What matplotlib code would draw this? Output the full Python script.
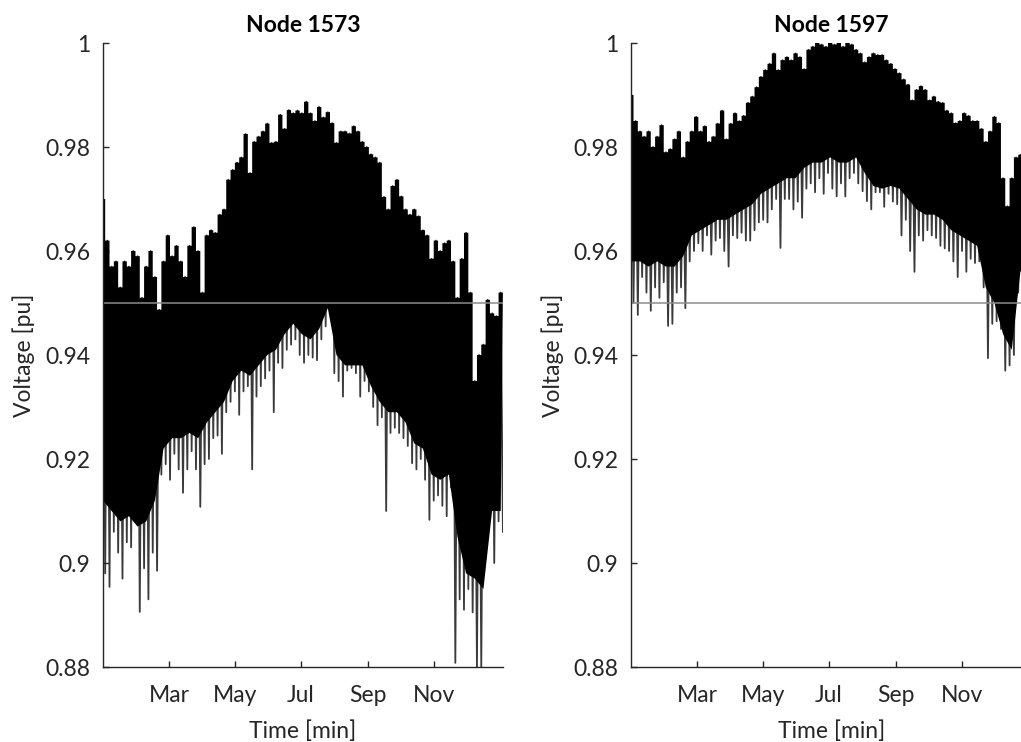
import numpy as np
import matplotlib
matplotlib.use("Agg")
import matplotlib.pyplot as plt
import matplotlib.dates as mdates
from datetime import datetime

plt.rcParams['font.family'] = ['Lato', 'DejaVu Sans']

# sampling: daytime peaks every 4 days starting at day -2, night troughs 2 days later,
# lower edge of the dense band every 8 days
step_hi = 4
step_core = 8
threshold = 0.95

# Node 1573
hi_1573 = [0.970, 0.962, 0.957, 0.958, 0.953, 0.958, 0.957, 0.960, 0.959, 0.951,
           0.957, 0.960, 0.955, 0.9487, 0.958, 0.963, 0.959, 0.961, 0.958, 0.955,
           0.961, 0.9646, 0.960, 0.952, 0.963, 0.964, 0.9635, 0.967, 0.968, 0.9737,
           0.9756, 0.977, 0.978, 0.9825, 0.975, 0.981, 0.982, 0.983, 0.9845, 0.9808,
           0.981, 0.9862, 0.9835, 0.9871, 0.9865, 0.987, 0.9865, 0.9887, 0.9865, 0.985,
           0.9877, 0.9857, 0.9867, 0.9846, 0.9808, 0.983, 0.983, 0.9826, 0.984, 0.983,
           0.981, 0.980, 0.9786, 0.978, 0.977, 0.9704, 0.968, 0.9725, 0.9737, 0.9705,
           0.968, 0.967, 0.968, 0.9667, 0.964, 0.963, 0.9585, 0.962, 0.960, 0.9615,
           0.962, 0.958, 0.951, 0.9585, 0.9635, 0.952, 0.935, 0.940, 0.942, 0.9506,
           0.948, 0.9475, 0.952]
lo_1573 = [0.898, 0.8954, 0.906, 0.902, 0.897, 0.904, 0.903, 0.909, 0.8906, 0.899,
           0.893, 0.902, 0.8985, 0.917, 0.919, 0.916, 0.921, 0.918, 0.9135, 0.918,
           0.9215, 0.918, 0.9108, 0.919, 0.920, 0.924, 0.9245, 0.921, 0.929, 0.931,
           0.933, 0.9285, 0.933, 0.934, 0.918, 0.932, 0.934, 0.9355, 0.937, 0.929,
           0.9385, 0.9375, 0.941, 0.942, 0.943, 0.940, 0.9385, 0.940, 0.9395, 0.939,
           0.943, 0.9455, 0.948, 0.9365, 0.935, 0.932, 0.937, 0.9375, 0.9365, 0.932,
           0.935, 0.933, 0.930, 0.9265, 0.928, 0.910, 0.925, 0.926, 0.925, 0.924,
           0.9225, 0.9192, 0.918, 0.920, 0.916, 0.9083, 0.912, 0.913, 0.911, 0.909,
           0.9145, 0.8808, 0.893, 0.891, 0.895, 0.8905, 0.880, 0.880, 0.903, 0.910,
           0.900, 0.908, 0.906]
core_1573 = [0.912, 0.910, 0.908, 0.909, 0.907, 0.908, 0.912, 0.922, 0.924, 0.924,
             0.925, 0.924, 0.927, 0.929, 0.931, 0.935, 0.937, 0.936, 0.938, 0.940,
             0.941, 0.944, 0.946, 0.944, 0.943, 0.945, 0.949, 0.940, 0.938, 0.938,
             0.938, 0.934, 0.931, 0.929, 0.929, 0.927, 0.923, 0.922, 0.917, 0.916,
             0.917, 0.905, 0.898, 0.897, 0.895, 0.910, 0.910]

# Node 1597
hi_1597 = [0.990, 0.985, 0.983, 0.982, 0.983, 0.980, 0.982, 0.9842, 0.979, 0.9796,
           0.9815, 0.983, 0.978, 0.981, 0.983, 0.9858, 0.983, 0.984, 0.981, 0.982,
           0.9845, 0.987, 0.9815, 0.9845, 0.9865, 0.985, 0.986, 0.9885, 0.9897, 0.9915,
           0.9935, 0.9948, 0.996, 0.998, 0.9948, 0.9967, 0.9973, 0.9967, 0.998, 0.9973,
           0.995, 0.9987, 0.9993, 1.000, 0.9997, 0.9993, 1.000, 0.9997, 1.000, 0.9993,
           1.000, 0.9997, 0.9987, 0.998, 0.9963, 0.9973, 0.998, 0.9977, 0.9977, 0.9967,
           0.996, 0.995, 0.9942, 0.993, 0.992, 0.989, 0.991, 0.9917, 0.991, 0.989,
           0.9897, 0.9887, 0.9885, 0.987, 0.9865, 0.9846, 0.985, 0.9865, 0.986, 0.985,
           0.985, 0.9835, 0.981, 0.983, 0.9858, 0.9846, 0.974, 0.9686, 0.974, 0.978,
           0.9785, 0.977, 0.975]
lo_1597 = [0.950, 0.9477, 0.955, 0.952, 0.9485, 0.953, 0.951, 0.954, 0.9456, 0.946,
           0.952, 0.953, 0.949, 0.958, 0.960, 0.9615, 0.960, 0.963, 0.9593, 0.962,
           0.9625, 0.960, 0.957, 0.963, 0.9625, 0.9635, 0.962, 0.962, 0.964, 0.9655,
           0.966, 0.9655, 0.968, 0.970, 0.9606, 0.970, 0.970, 0.968, 0.9695, 0.9664,
           0.972, 0.973, 0.9713, 0.974, 0.971, 0.975, 0.972, 0.9705, 0.973, 0.9705,
           0.974, 0.975, 0.973, 0.9715, 0.9696, 0.968, 0.9713, 0.9713, 0.9685, 0.971,
           0.9695, 0.969, 0.963, 0.966, 0.960, 0.956, 0.963, 0.962, 0.964, 0.963,
           0.9625, 0.961, 0.9605, 0.960, 0.958, 0.955, 0.960, 0.956, 0.9585, 0.9577,
           0.958, 0.953, 0.9394, 0.946, 0.9465, 0.945, 0.937, 0.938, 0.940, 0.952,
           0.955, 0.955, 0.955]
core_1597 = [0.958, 0.958, 0.957, 0.958, 0.957, 0.957, 0.959, 0.963, 0.964, 0.965,
             0.966, 0.966, 0.967, 0.968, 0.969, 0.971, 0.972, 0.973, 0.974, 0.974,
             0.976, 0.977, 0.977, 0.978, 0.977, 0.977, 0.978, 0.975, 0.9725, 0.972,
             0.9725, 0.972, 0.970, 0.968, 0.967, 0.967, 0.966, 0.964, 0.963, 0.962,
             0.961, 0.953, 0.950, 0.944, 0.941, 0.956, 0.958]

nodes = [("Node 1573", hi_1573, lo_1573, core_1573),
         ("Node 1597", hi_1597, lo_1597, core_1597)]

t0 = mdates.date2num(datetime(2019, 1, 1))
ink = '#262626'
fs = 16.5

W, H = 1021, 742
fig = plt.figure(figsize=(W / 100, H / 100), dpi=100)
axes = [fig.add_axes([102.7 / W, 1 - 667 / H, 400.3 / W, 624 / H]),
        fig.add_axes([631.0 / W, 1 - 667 / H, 400.3 / W, 624 / H])]

for ax, (title, hi, lo, core) in zip(axes, nodes):
    hi = np.array(hi)
    lo = np.array(lo)
    core = np.array(core)
    d_hi = -2 + step_hi * np.arange(len(hi))
    d_lo = d_hi + step_hi / 2
    d_core = -2 + step_core * np.arange(len(core))

    # peak/trough zigzag, drawn under the band so only the night dips show
    zx = t0 + np.column_stack([d_hi, d_lo]).ravel()
    zy = np.column_stack([hi, lo]).ravel()
    ax.plot(zx, zy, color='#3a3a3a', lw=1.3, zorder=1)

    # dense daily band: stepped top through the peaks, lower edge through core
    top_x = np.column_stack([d_hi - step_hi / 2, d_hi + step_hi / 2]).ravel()
    top_y = np.repeat(hi, 2)
    top_x = np.clip(top_x, -2.3, 368.1)
    xs = t0 + np.r_[top_x, d_core[::-1]]
    ys = np.r_[top_y, core[::-1]]
    ax.fill(xs, ys, color='k', lw=0, zorder=2)

    ax.axhline(threshold, color='#8c8c8c', lw=1.1, zorder=3)

    ax.set_xlim(t0 - 2.3, t0 + 368.1)
    ax.set_ylim(0.88, 1.0)
    ax.set_yticks([0.88, 0.9, 0.92, 0.94, 0.96, 0.98, 1.0])
    ax.set_yticklabels(['0.88', '0.9', '0.92', '0.94', '0.96', '0.98', '1'])
    ax.xaxis.set_major_locator(mdates.MonthLocator(bymonth=[3, 5, 7, 9, 11]))
    ax.xaxis.set_major_formatter(mdates.DateFormatter('%b'))

    for s in ['top', 'right']:
        ax.spines[s].set_visible(False)
    for s in ['left', 'bottom']:
        ax.spines[s].set_color(ink)
        ax.spines[s].set_linewidth(1.0)
        ax.spines[s].set_zorder(4)
    ax.tick_params(direction='in', length=4, width=1.0, color=ink,
                   labelcolor=ink, labelsize=fs)
    ax.tick_params(axis='y', pad=9)
    ax.tick_params(axis='x', pad=13)

    ax.set_title(title, fontsize=fs, fontweight='bold', color='k', pad=8)
    ax.set_xlabel('Time [min]', fontsize=fs, color=ink, labelpad=10)
    ax.set_ylabel('Voltage [pu]', fontsize=fs, color=ink, labelpad=7)

fig.savefig('out.png', dpi=100)
